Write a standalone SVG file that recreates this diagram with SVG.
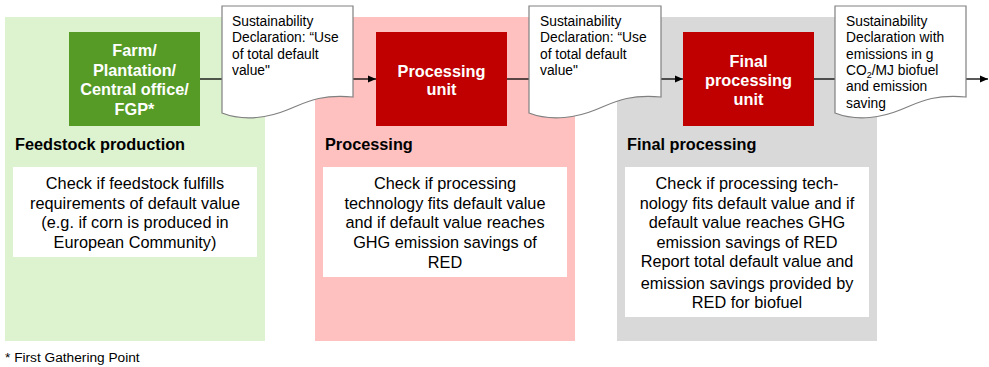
<svg xmlns="http://www.w3.org/2000/svg" width="989" height="367" viewBox="0 0 989 367">
<style>
text{font-family:"Liberation Sans",Arial,sans-serif;fill:#000}
.bt{font-size:16.3px;text-anchor:middle}
.ttl{font-size:16.3px;font-weight:bold}
.nd{font-size:16.3px;font-weight:bold;fill:#fff;text-anchor:middle}
.dt{font-size:13.8px}
.doc{fill:#fff;stroke:#808080;stroke-width:1.2}
.ln{stroke:#000;stroke-width:1.3;fill:none}
</style>
<defs>
<marker id="ah" markerWidth="8" markerHeight="8" refX="8" refY="4" orient="auto" markerUnits="userSpaceOnUse">
<path d="M0,0.5 L8,4 L0,7.5 Z" fill="#000"/>
</marker>
</defs>
<g id="panels">
<rect x="5" y="17" width="260" height="324" fill="#DDF2CF"/>
<rect x="315" y="17" width="260" height="324" fill="#FFC0C0"/>
<rect x="617" y="17" width="260" height="324" fill="#D9D9D9"/>
</g>
<g id="connectors">
<line class="ln" x1="200" y1="79" x2="222" y2="79"/>
<line class="ln" x1="353" y1="79" x2="376" y2="79" marker-end="url(#ah)"/>
<line class="ln" x1="507" y1="79" x2="529" y2="79"/>
<line class="ln" x1="661" y1="79" x2="683" y2="79" marker-end="url(#ah)"/>
<line class="ln" x1="814" y1="79" x2="835" y2="79"/>
<line class="ln" x1="966" y1="79" x2="988" y2="79" marker-end="url(#ah)"/>
</g>
<g id="farm">
<rect x="69" y="32" width="131" height="94" fill="#559B26"/>
<text class="nd"><tspan x="134.5" y="56">Farm/</tspan><tspan x="134.5" y="75.5">Plantation/</tspan><tspan x="134.5" y="95">Central office/</tspan><tspan x="134.5" y="115">FGP*</tspan></text>
</g>
<g id="processing-unit">
<rect x="376" y="32" width="131" height="94" fill="#C00000"/>
<text class="nd"><tspan x="441.5" y="77">Processing</tspan><tspan x="441.5" y="95">unit</tspan></text>
</g>
<g id="final-processing-unit">
<rect x="683" y="32" width="131" height="94" fill="#C00000"/>
<text class="nd"><tspan x="748.5" y="67">Final</tspan><tspan x="748.5" y="86">processing</tspan><tspan x="748.5" y="105">unit</tspan></text>
</g>
<g id="doc1">
<path class="doc" d="M222,6 H353 V97 C318,94 305,103 287,110 C270,117 245,122 222,113 Z"/>
<text class="dt"><tspan x="232" y="26">Sustainability</tspan><tspan x="232" y="42.3">Declaration: “Use</tspan><tspan x="232" y="58.6">of total default</tspan><tspan x="232" y="74.9">value"</tspan></text>
</g>
<g id="doc2">
<path class="doc" d="M529,6 H661 V97 C626,94 613,103 595,110 C578,117 552,122 529,113 Z"/>
<text class="dt"><tspan x="540" y="26">Sustainability</tspan><tspan x="540" y="42.3">Declaration: “Use</tspan><tspan x="540" y="58.6">of total default</tspan><tspan x="540" y="74.9">value"</tspan></text>
</g>
<g id="doc3">
<path class="doc" d="M835,6 H966 V97 C931,94 918,103 900,110 C883,117 858,122 835,113 Z"/>
<text class="dt"><tspan x="846" y="26">Sustainability</tspan><tspan x="846" y="42.3">Declaration with</tspan><tspan x="846" y="58.6">emissions in g</tspan><tspan x="846" y="74.9">CO<tspan font-size="9" dy="3">2</tspan><tspan dy="-3">/MJ biofuel</tspan></tspan><tspan x="846" y="91.2">and emission</tspan><tspan x="846" y="107.5">saving</tspan></text>
</g>
<g id="feedstock-production">
<text class="ttl" x="15" y="150">Feedstock production</text>
<rect x="13" y="167" width="244" height="90" fill="#fff"/>
<text class="bt"><tspan x="135" y="189">Check if feedstock fulfills</tspan><tspan x="135" y="208.5">requirements of default value</tspan><tspan x="135" y="228">(e.g. if corn is produced in</tspan><tspan x="135" y="247.5">European Community)</tspan></text>
</g>
<g id="processing">
<text class="ttl" x="325" y="150">Processing</text>
<rect x="323" y="167" width="244" height="110" fill="#fff"/>
<text class="bt"><tspan x="445" y="189">Check if processing</tspan><tspan x="445" y="208.5">technology fits default value</tspan><tspan x="445" y="227.5">and if default value reaches</tspan><tspan x="445" y="248">GHG emission savings of</tspan><tspan x="445" y="267.5">RED</tspan></text>
</g>
<g id="final-processing">
<text class="ttl" x="627" y="150">Final processing</text>
<rect x="625" y="167" width="244" height="150" fill="#fff"/>
<text class="bt"><tspan x="747" y="189">Check if processing tech-</tspan><tspan x="747" y="208.5">nology fits default value and if</tspan><tspan x="747" y="227.5">default value reaches GHG</tspan><tspan x="747" y="248">emission savings of RED</tspan><tspan x="747" y="267">Report total default value and</tspan><tspan x="747" y="288.5">emission savings provided by</tspan><tspan x="747" y="307.5">RED for biofuel</tspan></text>
</g>
<text x="5" y="362" font-size="13.7">* First Gathering Point</text>
</svg>
